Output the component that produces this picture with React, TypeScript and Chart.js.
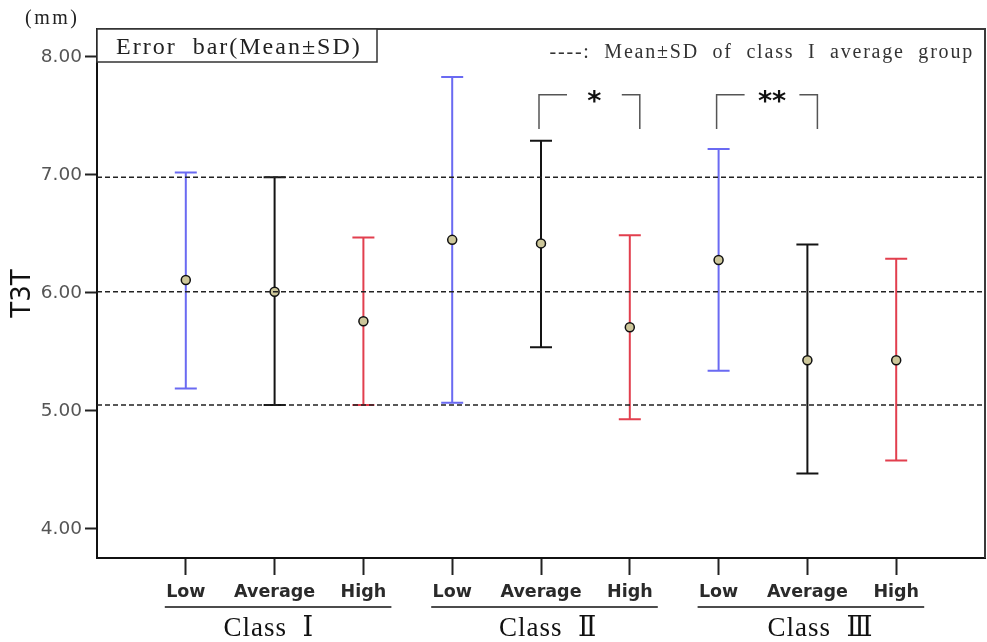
import React, { useEffect, useRef } from 'react';
import { Chart, registerables } from 'chart.js';
Chart.register(...registerables);

// ---- data ----
const levels = ['Low', 'Average', 'High', 'Low', 'Average', 'High', 'Low', 'Average', 'High'];
const classNames = ['Class  Ⅰ', 'Class  Ⅱ', 'Class  Ⅲ'];
const means = [6.11, 6.01, 5.76, 6.45, 6.42, 5.71, 6.28, 5.43, 5.43];
const upperSD = [7.02, 6.98, 6.47, 7.83, 7.29, 6.49, 7.22, 6.41, 6.29];
const lowerSD = [5.19, 5.05, 5.05, 5.07, 5.54, 4.93, 5.34, 4.47, 4.58];
const refLines = [6.98, 6.01, 5.05]; // Mean±SD of class I average group
const yTicks = [4, 5, 6, 7, 8];
const sigPairs: [number, number, string][] = [[4, 5, '*'], [6, 7, '**']];
const levelColors: Record<string, string> = { Low: '#6a6af2', Average: '#141414', High: '#e23f4e' };
const boxText = 'Error  bar(Mean±SD)';
const noteText = '----:  Mean±SD  of  class  I  average  group';
const unitText = '(mm)';
const yTitle = 'T3T';

const CLASS_LABEL_SHIFT = [-51, -42, -40];

const zeroPad = (s: any) => { s.paddingLeft = 0; s.paddingRight = 0; s.paddingTop = 0; s.paddingBottom = 0; };

const annot = {
  id: 'annot',
  beforeDatasetsDraw(chart: any) {
    const { ctx, scales } = chart;
    const xs = scales.x, ys = scales.y;
    ctx.save();
    ctx.lineWidth = 2;
    levels.forEach((lv, i) => {
      const px = xs.getPixelForValue(i);
      const top = ys.getPixelForValue(upperSD[i]);
      const bot = ys.getPixelForValue(lowerSD[i]);
      ctx.strokeStyle = levelColors[lv];
      ctx.beginPath();
      ctx.moveTo(px, top); ctx.lineTo(px, bot);
      ctx.moveTo(px - 11, top); ctx.lineTo(px + 11, top);
      ctx.moveTo(px - 11, bot); ctx.lineTo(px + 11, bot);
      ctx.stroke();
    });
    ctx.restore();
  },
  afterDraw(chart: any) {
    const { ctx, scales, chartArea } = chart;
    const xs = scales.x, ys = scales.y;
    const { left, right, top, bottom } = chartArea;
    ctx.save();
    ctx.strokeStyle = '#3a3a3a';
    ctx.lineWidth = 2;
    ctx.beginPath();
    ctx.moveTo(left, top); ctx.lineTo(right, top); ctx.lineTo(right, bottom);
    ctx.stroke();

    ctx.fillStyle = '#fff';
    ctx.fillRect(left, top, 280, 33);
    ctx.strokeStyle = '#333';
    ctx.lineWidth = 1.5;
    ctx.strokeRect(left, top, 280, 33);
    ctx.fillStyle = '#222';
    ctx.font = "24px 'Liberation Serif', serif";
    (ctx as any).letterSpacing = '2px';
    ctx.textAlign = 'left';
    ctx.textBaseline = 'alphabetic';
    ctx.fillText(boxText, left + 19, top + 25);

    ctx.font = "20px 'Liberation Serif', serif";
    (ctx as any).letterSpacing = '1.8px';
    ctx.textAlign = 'right';
    ctx.fillStyle = '#333';
    ctx.fillText(noteText, right - 11, top + 29);

    ctx.font = "20px 'Liberation Serif', serif";
    (ctx as any).letterSpacing = '2.5px';
    ctx.textAlign = 'left';
    ctx.fillStyle = '#222';
    ctx.fillText(unitText, 25, 24);

    classNames.forEach((name, g) => {
      const x0 = xs.getPixelForValue(g * 3) - 21;
      const x1 = xs.getPixelForValue(g * 3 + 2) + 28;
      ctx.strokeStyle = '#111';
      ctx.lineWidth = 1.5;
      ctx.beginPath();
      ctx.moveTo(x0, bottom + 49); ctx.lineTo(x1, bottom + 49);
      ctx.stroke();
      ctx.fillStyle = '#111';
      ctx.font = "27px 'Liberation Serif', 'DejaVu Serif', serif";
      (ctx as any).letterSpacing = '1px';
      ctx.textAlign = 'left';
      ctx.textBaseline = 'alphabetic';
      ctx.fillText(name, xs.getPixelForValue(g * 3 + 1) + CLASS_LABEL_SHIFT[g], bottom + 78);
    });
    (ctx as any).letterSpacing = '0px';

    sigPairs.forEach(([a, b, label]) => {
      const xl = xs.getPixelForValue(a) - 2;
      const xr = xs.getPixelForValue(b) + 10;
      const yt = ys.getPixelForValue(7.68);
      const yb = ys.getPixelForValue(7.39);
      ctx.strokeStyle = '#555';
      ctx.lineWidth = 1.5;
      ctx.beginPath();
      ctx.moveTo(xl, yb); ctx.lineTo(xl, yt); ctx.lineTo(xl + 28, yt);
      ctx.moveTo(xr - 18, yt); ctx.lineTo(xr, yt); ctx.lineTo(xr, yb);
      ctx.stroke();
      ctx.fillStyle = '#111';
      ctx.font = "bold 27px 'DejaVu Sans', sans-serif";
      ctx.textAlign = 'center';
      ctx.textBaseline = 'alphabetic';
      ctx.fillText(label, (xl + 28 + xr - 18) / 2, yt + 15);
    });
    ctx.restore();
  },
};

export default function App() {
  const ref = useRef<HTMLCanvasElement>(null);
  useEffect(() => {
    document.body.style.margin = '0';
    document.body.style.overflow = 'hidden';
    const canvas = ref.current!;
    const chart = new Chart(canvas, {
      type: 'scatter',
      data: {
        datasets: [
          ...refLines.map((v) => ({
            type: 'line' as const,
            data: [{ x: -1, y: v }, { x: 9, y: v }],
            borderColor: '#222',
            borderWidth: 1.5,
            borderDash: [5, 3],
            pointRadius: 0,
            fill: false,
          })),
          {
            type: 'scatter' as const,
            data: means.map((m, i) => ({ x: i, y: m })),
            pointRadius: 4.5,
            pointBackgroundColor: '#cdc79a',
            pointBorderColor: '#111',
            pointBorderWidth: 1.5,
          },
        ],
      },
      options: {
        animation: false,
        responsive: false,
        layout: { padding: { top: 29, right: 2, left: 0, bottom: 0 } },
        plugins: { legend: { display: false }, tooltip: { enabled: false } },
        scales: {
          x: {
            type: 'linear',
            min: -1,
            max: 9,
            afterBuildTicks: (s: any) => { s.ticks = levels.map((_, i) => ({ value: i })); },
            afterFit: (s: any) => { s.height = 84; zeroPad(s); },
            ticks: {
              callback: (v: any) => levels[v] ?? '',
              font: { family: "'DejaVu Sans', sans-serif", size: 17.5, weight: 'bold' },
              color: '#2a2a2a',
              padding: 7,
              autoSkip: false,
              maxRotation: 0,
            },
            grid: { drawOnChartArea: false, tickLength: 17, tickColor: '#222', tickWidth: 2 },
            border: { color: '#111', width: 2 },
          },
          y: {
            type: 'linear',
            min: 3.754,
            max: 8.237,
            afterBuildTicks: (s: any) => { s.ticks = yTicks.map((v) => ({ value: v })); },
            afterFit: (s: any) => { s.width = 97; zeroPad(s); },
            ticks: {
              callback: (v: any) => Number(v).toFixed(2),
              font: { family: "'DejaVu Sans', sans-serif", size: 18.5 },
              color: '#555',
              padding: 3,
            },
            grid: { drawOnChartArea: false, tickLength: 12, tickColor: '#222', tickWidth: 2 },
            border: { color: '#111', width: 2 },
            title: {
              display: true,
              text: yTitle,
              font: { family: "'DejaVu Sans', sans-serif", size: 26 },
              color: '#111',
              padding: { top: 8, bottom: 0 },
            },
          },
        },
      },
      plugins: [annot],
    } as any);
    return () => chart.destroy();
  }, []);
  return (
    <div style={{ position: 'relative', width: 987, height: 642, overflow: 'hidden' }}>
      <canvas ref={ref} width={991} height={642} style={{ width: 991, height: 642, display: 'block' }} />
    </div>
  );
}
